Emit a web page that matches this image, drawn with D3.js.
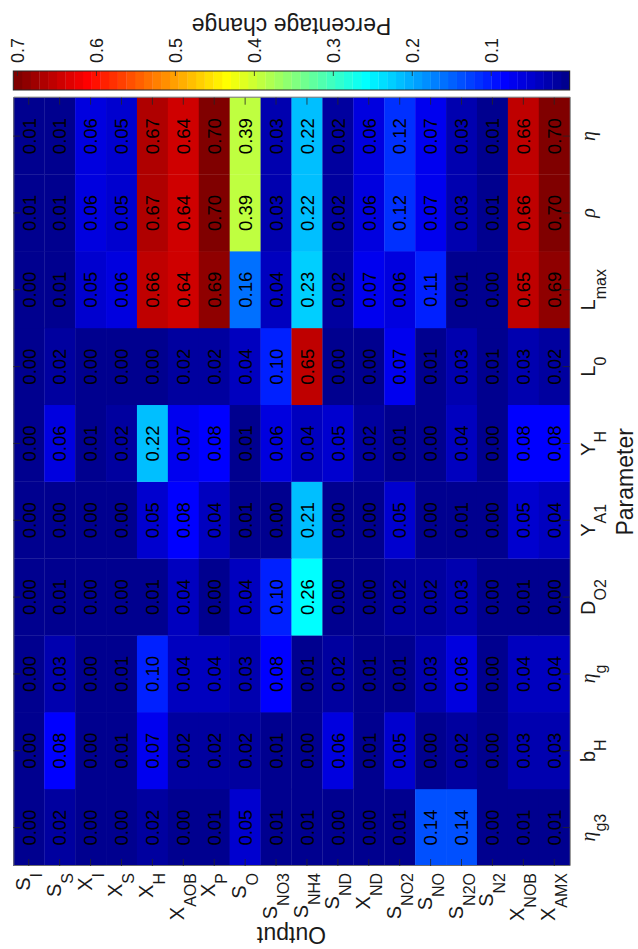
<!DOCTYPE html>
<html>
<head>
<meta charset="utf-8">
<script src="https://cdn.jsdelivr.net/npm/d3@7"></script>
<style>
  html, body { margin: 0; padding: 0; background: #fff; }
  svg { display: block; font-family: "Liberation Sans", Arial, Helvetica, sans-serif; }
</style>
</head>
<body>
<svg id="chart" width="638" height="949"></svg>
<script>
// Outputs (rows of the sensitivity matrix) and parameters (columns)
const outputLabels = ["S_I", "S_S", "X_I", "X_S", "X_H", "X_AOB", "X_P", "S_O", "S_NO3",
  "S_NH4", "S_ND", "X_ND", "S_NO2", "S_NO", "S_N2O", "S_N2", "X_NOB", "X_AMX"];
const parameterLabels = ["η_g3", "b_H", "η_g", "D_O2", "Y_A1", "Y_H", "L_0", "L_max", "ρ", "η"];

// Percentage change of each output, one array per parameter (output order as above)
const eta_g3 = [0.00, 0.02, 0.00, 0.00, 0.02, 0.00, 0.01, 0.05, 0.01, 0.01, 0.00, 0.00, 0.01, 0.14, 0.14, 0.00, 0.01, 0.01];
const b_H    = [0.00, 0.08, 0.00, 0.01, 0.07, 0.02, 0.02, 0.02, 0.01, 0.00, 0.06, 0.01, 0.05, 0.00, 0.02, 0.00, 0.03, 0.03];
const eta_g  = [0.00, 0.03, 0.00, 0.01, 0.10, 0.04, 0.04, 0.03, 0.08, 0.01, 0.02, 0.01, 0.01, 0.03, 0.06, 0.00, 0.04, 0.04];
const D_O2   = [0.00, 0.01, 0.00, 0.00, 0.01, 0.04, 0.00, 0.04, 0.10, 0.26, 0.00, 0.00, 0.02, 0.02, 0.03, 0.00, 0.01, 0.00];
const Y_A1   = [0.00, 0.00, 0.00, 0.00, 0.05, 0.08, 0.04, 0.01, 0.00, 0.21, 0.00, 0.00, 0.05, 0.00, 0.01, 0.00, 0.05, 0.04];
const Y_H    = [0.00, 0.06, 0.01, 0.02, 0.22, 0.07, 0.08, 0.01, 0.06, 0.04, 0.05, 0.02, 0.01, 0.00, 0.04, 0.00, 0.08, 0.08];
const L_0    = [0.00, 0.02, 0.00, 0.00, 0.00, 0.02, 0.02, 0.04, 0.10, 0.65, 0.00, 0.00, 0.07, 0.01, 0.03, 0.01, 0.03, 0.02];
const L_max  = [0.00, 0.01, 0.05, 0.06, 0.66, 0.64, 0.69, 0.16, 0.04, 0.23, 0.02, 0.07, 0.06, 0.11, 0.01, 0.00, 0.65, 0.69];
const rho    = [0.01, 0.01, 0.06, 0.05, 0.67, 0.64, 0.70, 0.39, 0.03, 0.22, 0.02, 0.06, 0.12, 0.07, 0.03, 0.01, 0.66, 0.70];
const eta    = [0.01, 0.01, 0.06, 0.05, 0.67, 0.64, 0.70, 0.39, 0.03, 0.22, 0.02, 0.06, 0.12, 0.07, 0.03, 0.01, 0.66, 0.70];
const seriesByParameter = [eta_g3, b_H, eta_g, D_O2, Y_A1, Y_H, L_0, L_max, rho, eta];

// Colour bar
const colorbarTicks = [0.1, 0.2, 0.3, 0.4, 0.5, 0.6, 0.7];
const colorLimits = [0, 0.7047];
const colormapSize = 64;

// The figure is laid out landscape and then turned a quarter turn counter-clockwise
const FIG_W = 949, FIG_H = 638;
const plot = { left: 83, right: 851.3, top: 13.3, bottom: 569.7 };
const cbar = { left: 859, right: 878 };

// MATLAB-style jet colormap with m entries
function jet(m) {
  const n = Math.ceil(m / 4);
  const u = [];
  for (let i = 1; i <= n; i++) u.push(i / n);
  for (let i = 1; i < n; i++) u.push(1);
  for (let i = n; i >= 1; i--) u.push(i / n);
  const gOff = Math.ceil(n / 2) - (m % 4 === 1 ? 1 : 0);
  const cmap = Array.from({ length: m }, () => [0, 0, 0]);
  u.forEach((val, k) => {
    const g = gOff + k + 1, r = g + n, b = g - n;
    if (r >= 1 && r <= m) cmap[r - 1][0] = val;
    if (g >= 1 && g <= m) cmap[g - 1][1] = val;
    if (b >= 1 && b <= m) cmap[b - 1][2] = val;
  });
  return cmap.map(c => d3.rgb(c[0] * 255, c[1] * 255, c[2] * 255).formatHex());
}
const jetColors = jet(colormapSize);
const colorIndex = d3.scaleQuantize().domain(colorLimits).range(d3.range(colormapSize));
const colorOf = v => jetColors[Math.min(colormapSize - 1, Math.max(0, colorIndex(v)))];

const svg = d3.select("#chart");
const fig = svg.append("g").attr("transform", `translate(0,${FIG_W}) rotate(-90)`);

const x = d3.scaleBand().domain(parameterLabels).range([plot.left, plot.right]);
const y = d3.scaleBand().domain(outputLabels).range([plot.top, plot.bottom]);

// Cells
const cells = [];
parameterLabels.forEach((p, i) => {
  outputLabels.forEach((o, j) => cells.push({ p, o, v: seriesByParameter[i][j] }));
});

fig.append("g").selectAll("rect").data(cells).join("rect")
  .attr("x", d => x(d.p))
  .attr("y", d => y(d.o))
  .attr("width", x.bandwidth() + 0.3)
  .attr("height", y.bandwidth() + 0.3)
  .attr("fill", d => colorOf(d.v));

fig.append("g").selectAll("text").data(cells).join("text")
  .attr("x", d => x(d.p) + x.bandwidth() / 2)
  .attr("y", d => y(d.o) + y.bandwidth() / 2 + 6.8)
  .attr("text-anchor", "middle")
  .attr("font-size", 18.5)
  .attr("fill", "#000")
  .text(d => d3.format(".2f")(d.v));

// Axes: ticks point inward on all four sides, box formed by the domain lines
const TICK = 7;
const axisStyle = sel => {
  sel.selectAll("text").remove();
  sel.selectAll("line").attr("stroke", "#262626").attr("stroke-width", 0.8);
  sel.select(".domain").attr("stroke", "#6e6e6e").attr("stroke-width", 1);
};
fig.append("g").attr("transform", `translate(0,${plot.bottom})`)
  .call(d3.axisBottom(x).tickSizeInner(-TICK).tickSizeOuter(0)).call(axisStyle);
fig.append("g").attr("transform", `translate(0,${plot.top})`)
  .call(d3.axisTop(x).tickSizeInner(-TICK).tickSizeOuter(0)).call(axisStyle);
fig.append("g").attr("transform", `translate(${plot.left},0)`)
  .call(d3.axisLeft(y).tickSizeInner(-TICK).tickSizeOuter(0)).call(axisStyle);
fig.append("g").attr("transform", `translate(${plot.right},0)`)
  .call(d3.axisRight(y).tickSizeInner(-TICK).tickSizeOuter(0)).call(axisStyle);

// Label with a TeX-like subscript ("S_NO3" -> S with NO3 lowered)
function writeLabel(text, label, size, subSize, subShift) {
  const [base, sub] = label.split("_");
  const greek = /[α-ω]/.test(base);
  text.append("tspan")
    .attr("font-family", greek ? "'Liberation Serif', 'DejaVu Serif', serif" : null)
    .attr("font-style", greek ? "italic" : null)
    .attr("font-size", size)
    .text(base);
  if (sub) {
    text.append("tspan")
      .attr("font-size", subSize)
      .attr("dy", subShift)
      .text(sub);
  }
}

// Output names on the left
fig.append("g").selectAll("text").data(outputLabels).join("text")
  .attr("x", plot.left - 7)
  .attr("y", d => y(d) + y.bandwidth() / 2 + 1)
  .attr("text-anchor", "end")
  .attr("fill", "#1a1a1a")
  .each(function (d) { writeLabel(d3.select(this), d, 20, 16, 12); });

// Parameter names below
fig.append("g").selectAll("text").data(parameterLabels).join("text")
  .attr("x", d => x(d) + x.bandwidth() / 2)
  .attr("y", plot.bottom + 25.5)
  .attr("text-anchor", "middle")
  .attr("fill", "#1a1a1a")
  .each(function (d) { writeLabel(d3.select(this), d, 20, 16, 11); });

// Axis titles
fig.append("text")
  .attr("x", (plot.left + plot.right) / 2)
  .attr("y", 633)
  .attr("text-anchor", "middle")
  .attr("font-size", 23)
  .attr("fill", "#1a1a1a")
  .text("Parameter");

fig.append("text")
  .attr("transform", `translate(22,${(plot.top + plot.bottom) / 2}) rotate(-90)`)
  .attr("text-anchor", "middle")
  .attr("font-size", 23)
  .attr("fill", "#1a1a1a")
  .text("Output");

// Colour bar
const cb = d3.scaleLinear().domain(colorLimits).range([plot.bottom, plot.top]);
const bandStep = (colorLimits[1] - colorLimits[0]) / colormapSize;
fig.append("g").selectAll("rect").data(jetColors).join("rect")
  .attr("x", cbar.left)
  .attr("width", cbar.right - cbar.left)
  .attr("y", (c, i) => cb(colorLimits[0] + (i + 1) * bandStep))
  .attr("height", (c, i) => cb(colorLimits[0] + i * bandStep) - cb(colorLimits[0] + (i + 1) * bandStep) + 0.3)
  .attr("fill", c => c);

fig.append("rect")
  .attr("x", cbar.left).attr("y", plot.top)
  .attr("width", cbar.right - cbar.left).attr("height", plot.bottom - plot.top)
  .attr("fill", "none").attr("stroke", "#262626").attr("stroke-width", 1);

const cbAxis = fig.append("g").attr("transform", `translate(${cbar.right},0)`)
  .call(d3.axisRight(cb).tickValues(colorbarTicks).tickSizeInner(-5).tickSizeOuter(0).tickPadding(8)
    .tickFormat(d3.format(".1f")));
cbAxis.select(".domain").remove();
cbAxis.selectAll("line").attr("stroke", "#262626").attr("stroke-width", 0.8);
cbAxis.selectAll("text")
  .attr("x", 8)
  .attr("dy", "0.36em")
  .attr("font-size", 18)
  .attr("font-family", "'Liberation Sans', Arial, sans-serif")
  .attr("fill", "#1a1a1a");

fig.append("text")
  .attr("transform", `translate(931,${(plot.top + plot.bottom) / 2}) rotate(-90)`)
  .attr("text-anchor", "middle")
  .attr("font-size", 23)
  .attr("fill", "#1a1a1a")
  .text("Percentage change");
</script>
</body>
</html>
